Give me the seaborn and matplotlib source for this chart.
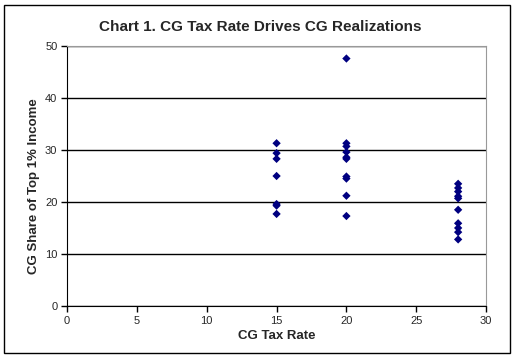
import matplotlib
matplotlib.use('Agg')
import matplotlib.pyplot as plt
import seaborn as sns
import pandas as pd
from matplotlib.patches import Rectangle

# CG tax rate and capital gains share of top 1% income
rate_15 = [15] * 7
share_15 = [31.3, 29.4, 28.3, 25.0, 19.6, 19.3, 17.7]
rate_20 = [20] * 10
share_20 = [47.6, 31.3, 30.7, 29.6, 28.6, 28.3, 24.9, 24.5, 21.2, 17.3]
rate_28 = [28] * 10
share_28 = [23.5, 22.7, 22.0, 21.1, 20.7, 18.5, 15.9, 15.0, 14.2, 12.8]

data = pd.DataFrame({'rate': rate_15 + rate_20 + rate_28,
                     'share': share_15 + share_20 + share_28})

sns.set_style('white')
plt.rcParams['font.family'] = ['Liberation Sans', 'DejaVu Sans']

fig = plt.figure(figsize=(5.16, 3.57), dpi=100)
ax = fig.add_axes([0.130, 0.143, 0.812, 0.728])

sns.scatterplot(data=data, x='rate', y='share', marker='D', color='#000080',
                s=18, edgecolor='none', ax=ax)

ax.set_xlim(0, 30)
ax.set_ylim(0, 50)
ax.set_xticks(range(0, 31, 5))
ax.set_yticks(range(0, 51, 10))
ax.yaxis.grid(True, color='black', linewidth=1)
ax.set_axisbelow(True)
for side in ['top', 'right']:
    ax.spines[side].set_color('#999999')
for side in ['left', 'bottom']:
    ax.spines[side].set_color('black')
ax.tick_params(axis='both', direction='out', length=4, width=1, labelsize=8,
               left=True, bottom=True, color='black', pad=3)

ax.set_xlabel('CG Tax Rate', fontsize=9.5, fontweight='bold', labelpad=3)
ax.set_ylabel('CG Share of Top 1% Income', fontsize=9.5, fontweight='bold')
ax.yaxis.set_label_coords(-0.064, 0.46)
fig.text(0.505, 0.925, 'Chart 1. CG Tax Rate Drives CG Realizations',
         ha='center', va='center', fontsize=11, fontweight='bold')

fig.patches.append(Rectangle((0.008, 0.012), 0.981, 0.975, transform=fig.transFigure,
                             fill=False, edgecolor='black', linewidth=1))

plt.savefig('out.png', dpi=100)
